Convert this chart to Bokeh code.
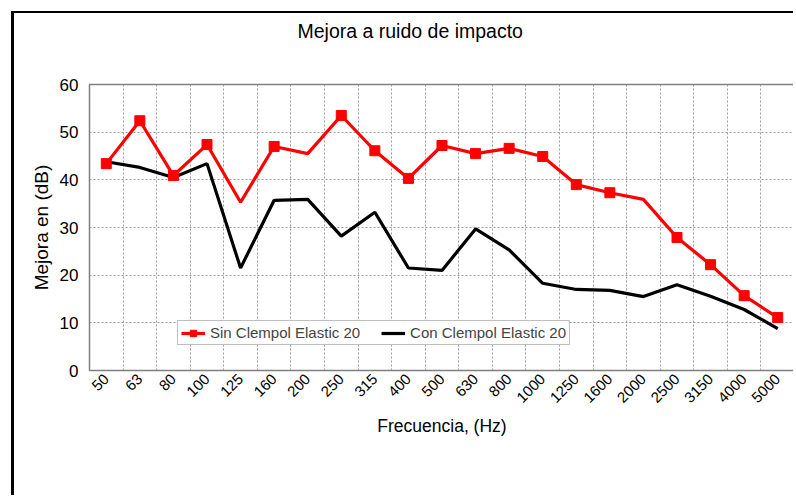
import math
from bokeh.plotting import figure
from bokeh.models import (Range1d, FixedTicker, Grid, Legend, LegendItem, ColumnDataSource, Title)
from bokeh.embed import file_html
from bokeh.resources import INLINE

# ---- data ----
frequencies = ["50", "63", "80", "100", "125", "160", "200", "250", "315", "400", "500",
               "630", "800", "1000", "1250", "1600", "2000", "2500", "3150", "4000", "5000"]
sin_clempol = [43.4, 52.4, 40.9, 47.4, 35.3, 47.0, 45.5, 53.5, 46.1, 40.3, 47.2,
               45.5, 46.6, 44.9, 39.0, 37.3, 35.9, 27.9, 22.2, 15.7, 11.1]
sin_marked = [True, True, True, True, False, True, False, True, True, True, True,
              True, True, True, True, True, False, True, True, True, True]
con_clempol = [43.8, 42.6, 40.5, 43.4, 21.5, 35.7, 35.9, 28.2, 33.2, 21.5, 21.0,
               29.7, 25.3, 18.3, 17.0, 16.8, 15.5, 18.0, 15.6, 12.8, 8.8]
y_ticks = [0, 10, 20, 30, 40, 50, 60]

title_text = "Mejora a ruido de impacto"
x_title = "Frecuencia, (Hz)"
y_title = "Mejora en (dB)"
sin_label = "Sin Clempol Elastic 20"
con_label = "Con Clempol Elastic 20"

FONT = "Liberation Sans"

n = len(frequencies)
xs = [i + 0.5 for i in range(n)]

p = figure(width=782, height=484, output_backend="svg", toolbar_location=None,
           x_range=Range1d(0, n), y_range=Range1d(y_ticks[0], y_ticks[-1]),
           min_border_left=75, min_border_right=2, min_border_top=71, min_border_bottom=127)
# outer chart frame: left and top edges visible, the rest runs off the picture
p.styles = {"margin-left": "11px", "margin-top": "11px",
            "border-left": "3px solid black", "border-top": "2px solid black"}

p.background_fill_color = "white"
p.border_fill_color = "white"
p.outline_line_color = "#808080"
p.outline_line_width = 1.5

# title, lifted well above the plot area by an empty spacer title
p.title = Title(text=title_text, align="left", offset=208, standoff=0,
                text_font=FONT, text_font_size="19.5px", text_font_style="normal",
                text_color="black")
p.add_layout(Title(text=" ", standoff=40, text_font_size="1px"), "above")

# axes
p.xaxis.ticker = FixedTicker(ticks=xs)
p.xaxis.major_label_overrides = {x: f for x, f in zip(xs, frequencies)}
p.xaxis.major_label_orientation = math.pi / 4
p.yaxis.ticker = FixedTicker(ticks=y_ticks)
for ax in (p.xaxis, p.yaxis):
    ax.axis_line_color = "#808080"
    ax.major_tick_out = 0
    ax.major_tick_in = 0
    ax.minor_tick_out = 0
    ax.minor_tick_in = 0
    ax.major_label_text_font = FONT
    ax.major_label_text_color = "black"
    ax.axis_label_text_font = FONT
    ax.axis_label_text_font_style = "normal"
    ax.axis_label_text_color = "black"
p.xaxis.major_label_text_font_size = "15px"
p.yaxis.major_label_text_font_size = "17px"
p.xaxis.axis_label = x_title
p.yaxis.axis_label = y_title
p.xaxis.axis_label_text_font_size = "17.5px"
p.yaxis.axis_label_text_font_size = "19px"
p.yaxis.major_label_standoff = 11
p.xaxis.major_label_standoff = 6
p.yaxis.axis_label_standoff = 5
p.xaxis.axis_label_standoff = 6

# grids
p.xgrid.visible = False
p.ygrid.grid_line_color = "#9a9a9a"
p.ygrid.grid_line_dash = "2 2"
p.ygrid.grid_line_width = 1
vgrid = Grid(dimension=0, ticker=FixedTicker(ticks=list(range(1, n))),
             grid_line_color="#9a9a9a", grid_line_dash="2 2", grid_line_width=1)
p.add_layout(vgrid)

# series
src_sin = ColumnDataSource(dict(x=xs, y=sin_clempol))
mk = [(x, y) for x, y, m in zip(xs, sin_clempol, sin_marked) if m]
src_mk = ColumnDataSource(dict(x=[a for a, b in mk], y=[b for a, b in mk]))
src_con = ColumnDataSource(dict(x=xs, y=con_clempol))

r_con = p.line("x", "y", source=src_con, line_color="black", line_width=3.2)
r_sin = p.line("x", "y", source=src_sin, line_color="#ff0000", line_width=3.2)
r_sin_m = p.scatter("x", "y", source=src_mk, marker="square", size=10,
                    fill_color="#ff0000", line_color="#ff0000")

legend = Legend(items=[LegendItem(label=sin_label, renderers=[r_sin, r_sin_m]),
                       LegendItem(label=con_label, renderers=[r_con])],
                orientation="horizontal", location=(88, 25),
                label_text_font=FONT, label_text_font_size="15px",
                label_standoff=5, glyph_width=24, glyph_height=16,
                padding=3, spacing=21, margin=0,
                border_line_color="#808080", border_line_width=1,
                background_fill_color="white", background_fill_alpha=1.0)
p.add_layout(legend)

open("out.html", "w").write(file_html(p, INLINE))
